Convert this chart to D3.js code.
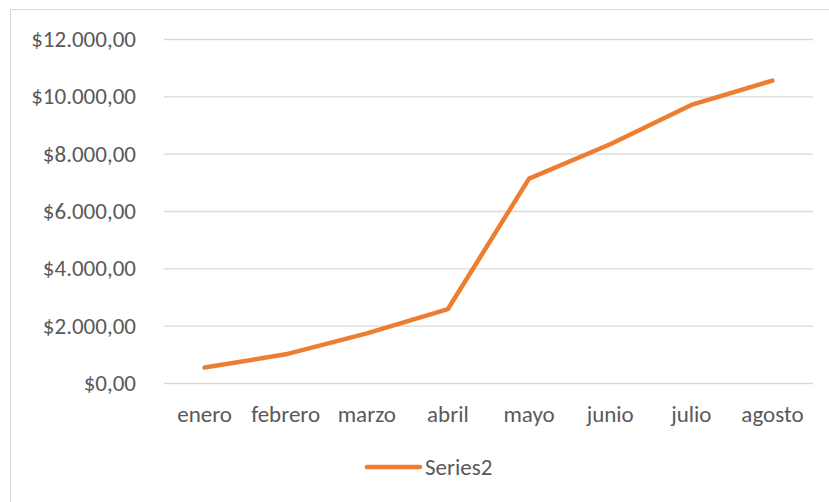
<!DOCTYPE html>
<html>
<head>
<meta charset="utf-8">
<script src="https://cdn.jsdelivr.net/npm/d3@7"></script>
<style>
  html, body { margin: 0; padding: 0; background: #fff; }
  svg { display: block; }
  text { font-family: Carlito, Calibri, Lato, "Open Sans", sans-serif; fill: #595959; }
</style>
</head>
<body>
<svg id="chart" width="829" height="502"></svg>
<script>
// Monthly totals
const months = ["enero", "febrero", "marzo", "abril", "mayo", "junio", "julio", "agosto"];
const series2 = [540, 1000, 1730, 2580, 7130, 8330, 9700, 10550];
const yTicks = [0, 2000, 4000, 6000, 8000, 10000, 12000];
const seriesName = "Series2";

const svg = d3.select("#chart");
const W = 829, H = 502;
const plot = { left: 164, right: 813, top: 39, bottom: 383 };
const lineColor = "#ED7D31";
const fontSize = 23;

// Chart frame
svg.append("rect")
  .attr("x", 10.5).attr("y", 9.5)
  .attr("width", W).attr("height", H)
  .attr("fill", "none").attr("stroke", "#D9D9D9").attr("stroke-width", 1);

const x = d3.scaleBand().domain(months).range([plot.left, plot.right]);
const y = d3.scaleLinear().domain([0, 12000]).range([plot.bottom, plot.top]);

// Currency with "." thousands and "," decimals
const fmt = v => "$" + d3.format(",.2f")(v).replace(/,/g, "#").replace(/\./g, ",").replace(/#/g, ".");

// Gridlines and value axis labels
const yAxis = d3.axisLeft(y).tickValues(yTicks).tickFormat(fmt)
  .tickSize(-(plot.right - plot.left)).tickPadding(28);
const gy = svg.append("g").attr("transform", `translate(${plot.left},0)`).call(yAxis);
gy.attr("font-size", null).attr("font-family", null);
gy.select(".domain").remove();
gy.selectAll(".tick line").attr("stroke", "#D9D9D9").attr("stroke-width", 1.3);
gy.selectAll(".tick text").style("font-size", fontSize + "px").attr("fill", "#595959");

// Category labels
const xAxis = d3.axisBottom(x).tickSize(0).tickPadding(23);
const gx = svg.append("g").attr("transform", `translate(0,${plot.bottom})`).call(xAxis);
gx.attr("font-size", null).attr("font-family", null);
gx.select(".domain").remove();
gx.selectAll(".tick text").style("font-size", fontSize + "px").attr("fill", "#595959");

// Series line
const line = d3.line()
  .x((d, i) => x(months[i]) + x.bandwidth() / 2)
  .y(d => y(d));
svg.append("path")
  .datum(series2)
  .attr("d", line)
  .attr("fill", "none")
  .attr("stroke", lineColor)
  .attr("stroke-width", 4.5)
  .attr("stroke-linecap", "round")
  .attr("stroke-linejoin", "round");

// Legend
const lg = svg.append("g").attr("transform", "translate(367,467)");
lg.append("line").attr("x1", 0).attr("x2", 53).attr("y1", 0).attr("y2", 0)
  .attr("stroke", lineColor).attr("stroke-width", 4.5).attr("stroke-linecap", "round");
lg.append("text").attr("x", 58).attr("y", 0).attr("dy", "0.35em")
  .style("font-size", fontSize + "px").text(seriesName);
</script>
</body>
</html>
